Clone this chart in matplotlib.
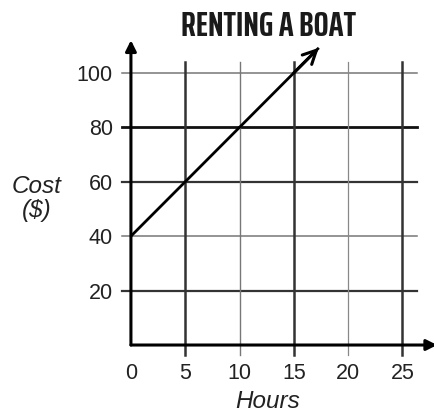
import matplotlib
matplotlib.use("Agg")
import matplotlib.pyplot as plt

# data
hours = [0, 5, 10, 15, 17.3]
cost = [40, 60, 80, 100, 109.2]
x_ticks = [0, 5, 10, 15, 20, 25]
y_ticks = [20, 40, 60, 80, 100]

# grid styling (scan has uneven line weights)
h_grid_lw = [1.6, 1.1, 1.6, 2.0, 1.1]
h_grid_col = ["#333333", "#777777", "#333333", "#111111", "#777777"]
v_grid_lw = [1.8, 1.0, 1.8, 0.9, 1.8]
v_grid_col = ["#333333", "#777777", "#333333", "#888888", "#333333"]

plt.rcParams["font.family"] = ["Liberation Sans", "DejaVu Sans"]

fig = plt.figure(figsize=(4.35, 4.13), dpi=100)
ax = fig.add_axes([0.301, 0.1646, 0.699, 0.738])
ax.set_xlim(0, 28)
ax.set_ylim(0, 112)
for s in ax.spines.values():
    s.set_visible(False)

# grid lines, slightly overshooting the plotting area like the drawing
for y, lw, c in zip(y_ticks, h_grid_lw, h_grid_col):
    ax.plot([-0.8, 26.3], [y, y], color=c, lw=lw, clip_on=False, zorder=1)
for x, lw, c in zip(x_ticks[1:], v_grid_lw, v_grid_col):
    ax.plot([x, x], [-3.7, 104], color=c, lw=lw, clip_on=False, zorder=1)

# axes with arrow heads
arrow = dict(arrowstyle="-|>", lw=2.2, color="black", mutation_scale=16,
             shrinkA=0, shrinkB=0)
ax.annotate("", xy=(0, 112), xytext=(0, 0), arrowprops=arrow, annotation_clip=False)
ax.annotate("", xy=(28.2, 0), xytext=(0, 0), arrowprops=arrow, annotation_clip=False)

# the cost line with an open arrow at the end
ax.plot(hours, cost, color="black", lw=2.0, solid_capstyle="butt", zorder=3)
ax.annotate("", xy=(hours[-1], cost[-1]), xytext=(hours[-2], cost[-2]),
            arrowprops=dict(arrowstyle="->", lw=2.2, color="black",
                            mutation_scale=24, shrinkA=0, shrinkB=0),
            annotation_clip=False, zorder=3)

ax.set_xticks(x_ticks)
ax.set_xticklabels([str(v) for v in x_ticks])
ax.set_yticks(y_ticks)
ax.set_yticklabels([str(v) for v in y_ticks])
ax.tick_params(length=0, labelsize=15.5, labelcolor="#222222")
ax.tick_params(axis="y", pad=13)
ax.tick_params(axis="x", pad=13)

ax.text(12.55, -20.6, "Hours", ha="center", va="center", fontsize=17.5,
        fontstyle="italic", color="#222222", clip_on=False)
ax.text(-8.7, 53.9, "Cost\n($)", ha="center", va="center", fontsize=17.5,
        fontstyle="italic", color="#222222", linespacing=1.05, clip_on=False)

fig.text(0.618, 0.935, "RENTING A BOAT", ha="center", va="center",
         fontsize=25.5, fontweight="bold", color="#1a1a1a",
         family=["Saira ExtraCondensed", "Antonio", "DejaVu Sans"])

fig.savefig("out.png", dpi=100)
